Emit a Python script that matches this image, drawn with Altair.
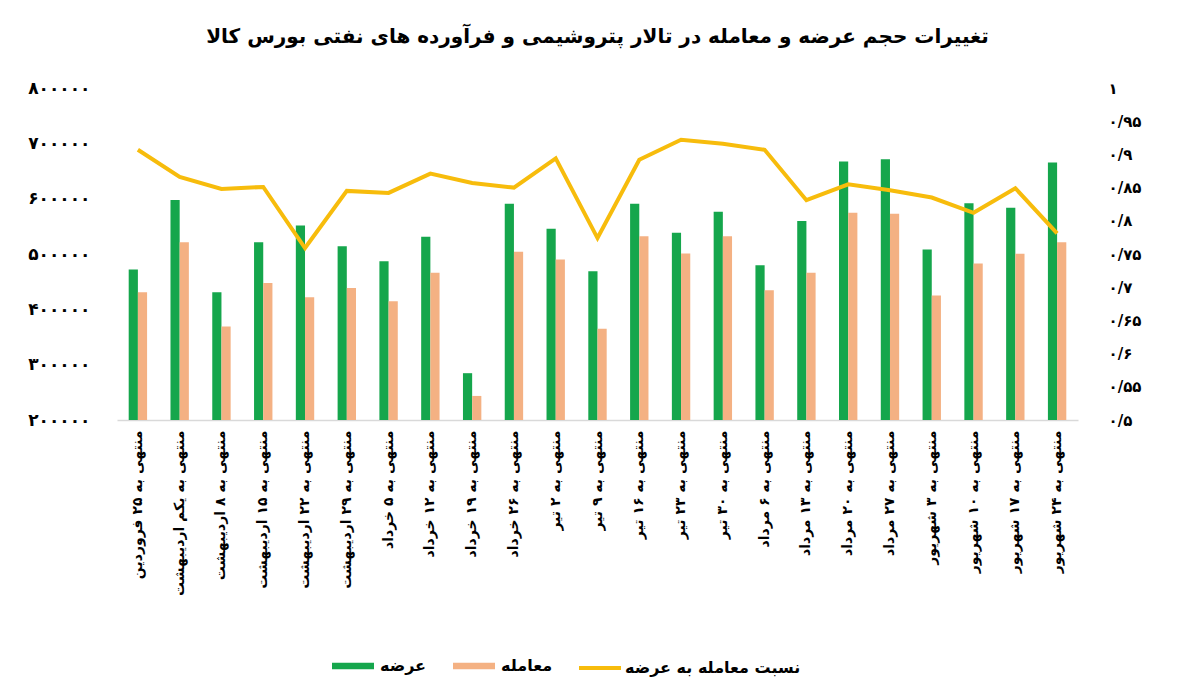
import altair as alt
import pandas as pd

title_text = "تغییرات حجم عرضه و معامله در تالار پتروشیمی و فرآورده های نفتی بورس کالا"

categories = [
    "منتهی به ۲۵ فروردین",
    "منتهی به یکم اردیبهشت",
    "منتهی به ۸ اردیبهشت",
    "منتهی به ۱۵ اردیبهشت",
    "منتهی به ۲۲ اردیبهشت",
    "منتهی به ۲۹ اردیبهشت",
    "منتهی به ۵ خرداد",
    "منتهی به ۱۲ خرداد",
    "منتهی به ۱۹ خرداد",
    "منتهی به ۲۶ خرداد",
    "منتهی به ۲ تیر",
    "منتهی به ۹ تیر",
    "منتهی به ۱۶ تیر",
    "منتهی به ۲۳ تیر",
    "منتهی به ۳۰ تیر",
    "منتهی به ۶ مرداد",
    "منتهی به ۱۳ مرداد",
    "منتهی به ۲۰ مرداد",
    "منتهی به ۲۷ مرداد",
    "منتهی به ۳ شهریور",
    "منتهی به ۱۰ شهریور",
    "منتهی به ۱۷ شهریور",
    "منتهی به ۲۴ شهریور",
]

supply = [471900, 597500, 430800, 521400, 551700, 514200, 487000, 531100, 284600,
          591000, 545600, 468900, 591000, 538400, 576400, 479800, 559500, 667100,
          671300, 508200, 591500, 583700, 665300]
trade = [430800, 521400, 369100, 447800, 421700, 438700, 414500, 465900, 243500,
         503900, 490000, 365000, 532300, 500900, 532300, 434400, 465900, 574600,
         572800, 424800, 482800, 500300, 521400]
ratio = [0.907, 0.866, 0.848, 0.851, 0.759, 0.845, 0.842, 0.871, 0.857, 0.850,
         0.894, 0.774, 0.892, 0.922, 0.916, 0.907, 0.831, 0.855, 0.846, 0.835,
         0.812, 0.849, 0.781]

series_names = ["عرضه", "معامله"]
ratio_name = "نسبت معامله به عرضه"

left_ticks = [200000, 300000, 400000, 500000, 600000, 700000, 800000]
right_ticks = [0.5, 0.55, 0.6, 0.65, 0.7, 0.75, 0.8, 0.85, 0.9, 0.95, 1.0]

green = "#15a64c"
orange = "#f4b183"
yellow = "#f7bc0c"
FONT = "DejaVu Sans"

persian_digits = "۰۱۲۳۴۵۶۷۸۹"


def fa_expr(inner):
    e = inner
    for d in range(10):
        e = f"replace({e}, regexp('{d}','g'), '{persian_digits[d]}')"
    return e


bars_df = pd.DataFrame({
    "cat": categories * 2,
    "series": [series_names[0]] * len(categories) + [series_names[1]] * len(categories),
    "value": supply + trade,
})
line_df = pd.DataFrame({"cat": categories, "ratio": ratio, "s": [ratio_name] * len(categories)})

x_enc = alt.X(
    "cat:N", sort=categories, title=None,
    scale=alt.Scale(paddingInner=0.56, paddingOuter=0.28),
    axis=alt.Axis(labelAngle=-90, labelFont=FONT, labelFontWeight="bold", labelFontSize=14,
                  labelColor="#000", labelPadding=10, labelLimit=300, ticks=False,
                  domainColor="#d9d9d9", domainWidth=1.5, grid=False),
)

bars = alt.Chart(bars_df).mark_bar().encode(
    x=x_enc,
    xOffset=alt.XOffset("series:N", sort=series_names),
    y=alt.Y("value:Q", title=None,
            scale=alt.Scale(domain=[200000, 800000], zero=False),
            axis=alt.Axis(values=left_ticks, format="d", labelExpr=fa_expr("datum.label"),
                          domain=False, ticks=False, grid=False, labelPadding=27,
                          labelFont=FONT, labelFontWeight="bold", labelFontSize=17,
                          labelColor="#000")),
    y2=alt.datum(200000),
    color=alt.Color("series:N", sort=series_names,
                    scale=alt.Scale(domain=series_names, range=[green, orange]),
                    legend=alt.Legend(title=None, orient="none", direction="horizontal",
                                      legendX=215, legendY=557,
                                      symbolType="M-1,-0.16H1V0.16H-1Z", symbolSize=1764,
                                      symbolStrokeWidth=0, labelFont=FONT,
                                      labelFontWeight="bold", labelFontSize=16,
                                      labelColor="#000", columnPadding=26, labelOffset=6,
                                      labelLimit=300)),
)

line = alt.Chart(line_df).mark_line(strokeWidth=4).encode(
    x=alt.X("cat:N", sort=categories),
    y=alt.Y("ratio:Q", title=None,
            scale=alt.Scale(domain=[0.5, 1.0], zero=False),
            axis=alt.Axis(orient="right", values=right_ticks, format=".2~f",
                          labelExpr=fa_expr("replace(datum.label, '.', '/')"),
                          domain=False, ticks=False, grid=False, labelPadding=30,
                          labelFont=FONT, labelFontWeight="bold", labelFontSize=15,
                          labelColor="#000")),
    stroke=alt.Stroke("s:N", scale=alt.Scale(domain=[ratio_name], range=[yellow]),
                      legend=alt.Legend(title=None, orient="none", legendX=460, legendY=557,
                                        symbolType="stroke", symbolSize=1764,
                                        symbolStrokeWidth=4, labelFont=FONT,
                                        labelFontWeight="bold", labelFontSize=16,
                                        labelColor="#000", labelOffset=2, labelLimit=300)),
)

chart = alt.layer(bars, line).resolve_scale(y="independent", color="independent").properties(
    width=961, height=332,
    title=alt.TitleParams(title_text, font=FONT, fontSize=20, fontWeight="bold",
                          color="#000", anchor="middle", offset=32),
    autosize=alt.AutoSizeParams(type="none"),
    padding={"left": 109, "top": 80, "right": 92, "bottom": 266},
    background="white",
).configure_view(strokeWidth=0, stroke="transparent")

chart.save("out.html", embed_options={"renderer": "svg", "actions": False})
